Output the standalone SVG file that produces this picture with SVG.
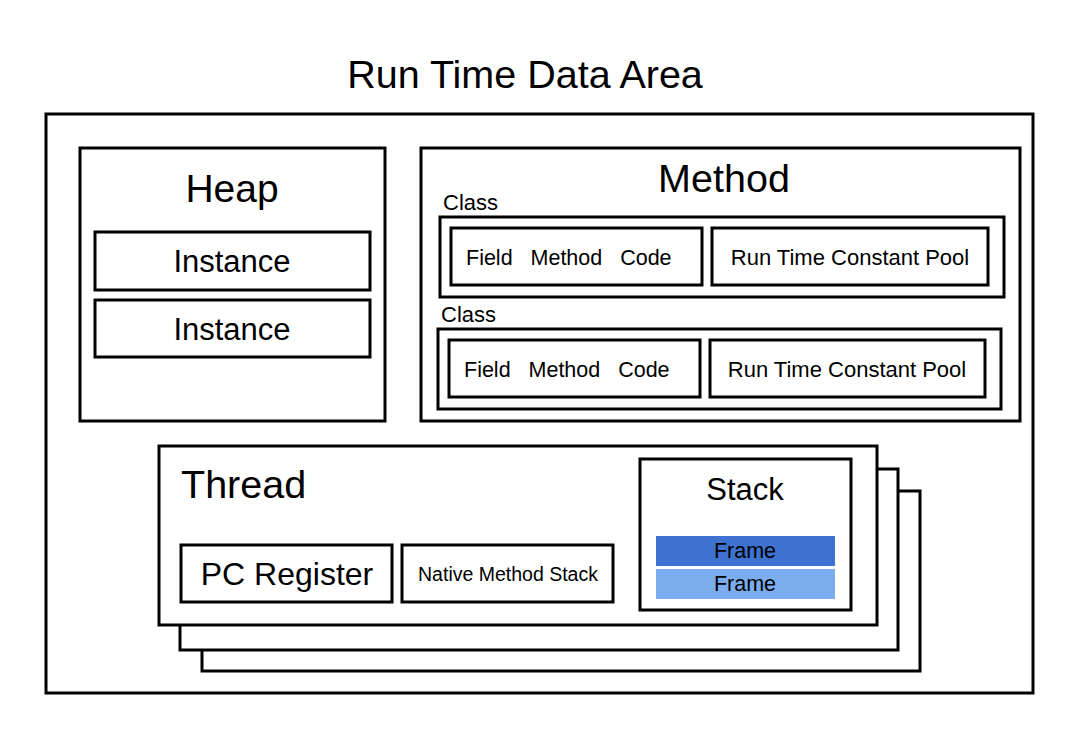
<svg xmlns="http://www.w3.org/2000/svg" width="1092" height="742" viewBox="0 0 1092 742">
<style>
.b{fill:#fff;stroke:#000;stroke-width:3}
.t{font-family:"Liberation Sans",Arial,sans-serif;fill:#000}
.c{text-anchor:middle}
</style>
<rect width="1092" height="742" fill="#fff"/>
<text class="t c" x="525" y="88" font-size="39.5">Run Time Data Area</text>
<g id="runtime"><rect class="b" x="46" y="114" width="987" height="579"/></g>
<g id="heap">
<rect class="b" x="80" y="148" width="305" height="273"/>
<text class="t c" x="232" y="202" font-size="39">Heap</text>
<rect class="b" x="95" y="232" width="275" height="58"/>
<text class="t c" x="232" y="272" font-size="31">Instance</text>
<rect class="b" x="95" y="300" width="275" height="57"/>
<text class="t c" x="232" y="340" font-size="31">Instance</text>
</g>
<g id="method">
<rect class="b" x="421" y="148" width="599" height="273"/>
<text class="t c" x="724" y="192" font-size="39.5">Method</text>
<text class="t" x="443" y="210" font-size="22">Class</text>
<rect class="b" x="440" y="217" width="564" height="80"/>
<rect class="b" x="451" y="228" width="251" height="57"/>
<text class="t" x="466" y="265" font-size="21.5" xml:space="preserve">Field   Method   Code</text>
<rect class="b" x="712" y="228" width="276" height="57"/>
<text class="t c" x="850" y="265" font-size="22">Run Time Constant Pool</text>
<text class="t" x="441" y="322" font-size="22">Class</text>
<rect class="b" x="438" y="329" width="563" height="80"/>
<rect class="b" x="449" y="340" width="251" height="57"/>
<text class="t" x="464" y="377" font-size="21.5" xml:space="preserve">Field   Method   Code</text>
<rect class="b" x="710" y="340" width="275" height="57"/>
<text class="t c" x="847" y="377" font-size="22">Run Time Constant Pool</text>
</g>
<g id="thread3"><rect class="b" x="202" y="491" width="718" height="180"/></g>
<g id="thread2"><rect class="b" x="180" y="469" width="718" height="181"/></g>
<g id="thread">
<rect class="b" x="159" y="446" width="718" height="179"/>
<text class="t" x="181" y="498" font-size="39.5">Thread</text>
<rect class="b" x="181" y="545" width="211" height="57"/>
<text class="t c" x="287" y="585" font-size="32">PC Register</text>
<rect class="b" x="402" y="545" width="211" height="57"/>
<text class="t c" x="508" y="581" font-size="19.5">Native Method Stack</text>
</g>
<g id="stack">
<rect class="b" x="640" y="459" width="211" height="151"/>
<text class="t c" x="745" y="500" font-size="31">Stack</text>
<rect x="656" y="536" width="179" height="30" fill="#3d72d1"/>
<text class="t c" x="745" y="558" font-size="21.5">Frame</text>
<rect x="656" y="569" width="179" height="30" fill="#7badee"/>
<text class="t c" x="745" y="591" font-size="21.5">Frame</text>
</g>
<g id="connectors"/>
</svg>
